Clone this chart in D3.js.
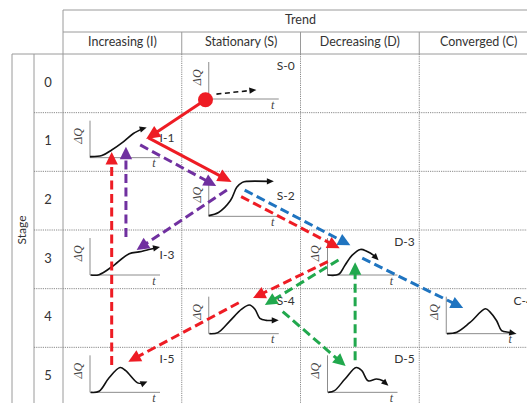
<!DOCTYPE html>
<html>
<head>
<meta charset="utf-8">
<script src="https://cdn.jsdelivr.net/npm/d3@7"></script>
<style>
  body { margin: 0; background: #fff; }
  text { font-family: Lato, "Open Sans", sans-serif; fill: #333; }
  .math { font-family: "Liberation Serif", "DejaVu Serif", serif; font-style: italic; fill: #444; }
</style>
</head>
<body>
<svg id="chart" width="527" height="403"></svg>
<script>
// grid categories
const trendLabels = ["Increasing (I)", "Stationary (S)", "Decreasing (D)", "Converged (C)"];
const trendCodes = ["I", "S", "D", "C"];
const stages = [0, 1, 2, 3, 4, 5];

// states and their dQ(t) sketch, in plot units (t, q) from 0 to 1
const stateNames = ["S-0", "I-1", "S-2", "I-3", "S-4", "I-5", "D-3", "C-4", "D-5"];
const stateCurves = [
  [[0.11, 0.14], [0.68, 0.26]],
  [[0, 0.03], [0.17, 0.06], [0.31, 0.22], [0.48, 0.46], [0.62, 0.69], [0.74, 0.82], [0.81, 0.86]],
  [[0, 0.02], [0.14, 0.11], [0.31, 0.45], [0.4, 0.83], [0.48, 0.97], [0.55, 1.0], [0.93, 1.0]],
  [[0.01, 0], [0.13, 0.01], [0.31, 0.23], [0.56, 0.61], [0.7, 0.66], [0.84, 0.73], [1.0, 0.8]],
  [[0.01, 0], [0.13, 0.03], [0.3, 0.36], [0.47, 0.7], [0.58, 0.82], [0.66, 0.7], [0.73, 0.44], [0.82, 0.38], [1.0, 0.38]],
  [[0.01, 0], [0.13, 0.03], [0.27, 0.41], [0.43, 0.71], [0.51, 0.62], [0.68, 0.27], [0.75, 0.25], [0.82, 0.31]],
  [[0, 0], [0.16, 0.02], [0.25, 0.28], [0.35, 0.56], [0.47, 0.73], [0.56, 0.68], [0.66, 0.56], [0.73, 0.42]],
  [[0.01, 0], [0.15, 0.04], [0.34, 0.32], [0.56, 0.71], [0.63, 0.61], [0.72, 0.37], [0.79, 0.09], [0.89, 0.04], [1.0, 0]],
  [[0.01, 0], [0.1, 0.05], [0.25, 0.38], [0.41, 0.71], [0.49, 0.62], [0.58, 0.33], [0.7, 0.38], [0.79, 0.33], [0.87, 0.19]]
];

// transitions between states
const transFrom = ["S-0", "I-1", "I-1", "S-2", "I-3", "I-5", "S-2", "S-2", "D-3", "D-3", "S-4", "D-3", "S-4", "D-5"];
const transTo = ["I-1", "S-2", "S-2", "I-3", "I-1", "I-1", "D-3", "D-3", "C-4", "S-4", "I-5", "S-4", "D-5", "D-3"];
const transPath = ["red", "red", "purple", "purple", "purple", "red", "red", "blue", "blue", "red", "red", "green", "green", "green"];
const transObserved = [true, true, false, false, false, false, false, false, false, false, false, false, false, false];

// where each transition leaves / enters its cell (fraction of cell width, height)
const transAnchors = [
  [[0.20, 0.78], [0.70, 0.45]],
  [[0.72, 0.43], [0.42, 0.18]],
  [[0.65, 0.55], [0.29, 0.25]],
  [[0.38, 0.32], [0.62, 0.34]],
  [[0.53, 0.12], [0.53, 0.58]],
  [[0.41, 0.30], [0.41, 0.67]],
  [[0.50, 0.43], [0.33, 0.31]],
  [[0.53, 0.32], [0.42, 0.26]],
  [[0.52, 0.48], [0.37, 0.33]],
  [[0.23, 0.54], [0.60, 0.16]],
  [[0.48, 0.24], [0.55, 0.245]],
  [[0.32, 0.51], [0.70, 0.28]],
  [[0.85, 0.39], [0.38, 0.32]],
  [[0.46, 0.22], [0.46, 0.55]]
];

const pathColor = d3.scaleOrdinal()
  .domain(["red", "purple", "blue", "green"])
  .range(["#ee1c24", "#7030a0", "#1f74c0", "#21a84d"]);

const svg = d3.select("#chart");

const x = d3.scaleBand().domain(trendCodes).range([63, 538]);
const y = d3.scaleBand().domain(stages).range([54, 406]);

// ---- table frame ----
const grid = svg.append("g").attr("fill", "none");
const solid = (x1, y1, x2, y2) => grid.append("line")
  .attr("x1", x1).attr("y1", y1).attr("x2", x2).attr("y2", y2)
  .attr("stroke", "#9a9a9a");
const dotted = (x1, y1, x2, y2) => solid(x1, y1, x2, y2)
  .attr("stroke", "#8a8a8a")
  .attr("stroke-dasharray", "1.2,1");

solid(63, 10, 538, 10);
solid(63, 32, 538, 32);
solid(12, 54, 538, 54);
solid(63, 10, 63, 406);
solid(12, 54, 12, 406);
solid(34, 54, 34, 406);
trendCodes.slice(1).forEach((c) => {
  solid(x(c), 32, x(c), 54);
  dotted(x(c), 54, x(c), 406);
});
stages.slice(1).forEach((s) => dotted(34, y(s), 538, y(s)));

svg.append("text")
  .attr("x", (x.range()[0] + x.range()[1]) / 2)
  .attr("y", 21)
  .attr("text-anchor", "middle")
  .attr("dominant-baseline", "middle")
  .attr("font-size", 12.5)
  .text("Trend");

svg.selectAll(".trend-label").data(trendCodes).enter()
  .append("text")
  .classed("trend-label", true)
  .attr("x", (d) => x(d) + x.bandwidth() / 2)
  .attr("y", 43)
  .attr("text-anchor", "middle")
  .attr("dominant-baseline", "middle")
  .attr("font-size", 12.5)
  .text((d, i) => trendLabels[i]);

svg.selectAll(".stage-label").data(stages).enter()
  .append("text")
  .classed("stage-label", true)
  .attr("x", 48)
  .attr("y", (d) => y(d) + y.bandwidth() / 2)
  .attr("text-anchor", "middle")
  .attr("dominant-baseline", "middle")
  .attr("font-size", 13)
  .text((d) => d);

svg.append("text")
  .attr("transform", "translate(23," + (y.range()[0] + y.range()[1]) / 2 + ") rotate(-90)")
  .attr("text-anchor", "middle")
  .attr("dominant-baseline", "middle")
  .attr("font-size", 12)
  .text("Stage");

// ---- mini plots ----
const plotW = 70, plotH = 35, plotDx = 27, plotDy = 45;
const cellOf = (name) => {
  const parts = name.split("-");
  return { col: parts[0], stage: +parts[1] };
};

const tScale = d3.scaleLinear().domain([0, 1]).range([0, plotW]);
const qScale = d3.scaleLinear().domain([0, 1]).range([0, -plotH]);
const curveLine = d3.line()
  .x((p) => tScale(p[0]))
  .y((p) => qScale(p[1]))
  .curve(d3.curveCatmullRom.alpha(0.5));

const head = (tip, from, len, half) => {
  const dx = tip[0] - from[0], dy = tip[1] - from[1];
  const n = Math.hypot(dx, dy), ux = dx / n, uy = dy / n;
  const bx = tip[0] - ux * len, by = tip[1] - uy * len;
  return [[tip[0], tip[1]], [bx - uy * half, by + ux * half], [bx + uy * half, by - ux * half]];
};

stateNames.forEach((name, i) => {
  const c = cellOf(name);
  const ox = x(c.col) + plotDx, oy = y(c.stage) + plotDy;
  const g = svg.append("g").attr("transform", "translate(" + ox + "," + oy + ")");
  const pts = stateCurves[i];

  g.append("line").attr("x1", 0).attr("y1", 0).attr("x2", 0).attr("y2", -plotH - 2)
    .attr("stroke", "#8c8c8c").attr("stroke-width", 1);
  g.append("line").attr("x1", 0).attr("y1", 0).attr("x2", plotW).attr("y2", 0)
    .attr("stroke", "#8c8c8c").attr("stroke-width", 1);

  g.append("text").classed("math", true)
    .attr("transform", "translate(-11," + (-plotH * 0.62) + ") rotate(-90)")
    .attr("text-anchor", "middle")
    .attr("dominant-baseline", "middle")
    .attr("font-size", 12)
    .text("ΔQ");
  g.append("text").classed("math", true)
    .attr("x", plotW - 6).attr("y", 7)
    .attr("text-anchor", "middle")
    .attr("dominant-baseline", "middle")
    .attr("font-size", 12)
    .text("t");

  const last = pts[pts.length - 1];
  const prev = pts[pts.length - 2];
  const tip = [tScale(last[0]), qScale(last[1])];
  const before = [tScale(prev[0]), qScale(prev[1])];
  const tri = head(tip, before, 7, 3.2);
  const trimmed = pts.slice(0, -1).concat([[
    tScale.invert(tip[0] - (tip[0] - tri[1][0] + tip[0] - tri[2][0]) / 2 * 0.8),
    qScale.invert(tip[1] - (tip[1] - tri[1][1] + tip[1] - tri[2][1]) / 2 * 0.8)
  ]]);

  g.append("path")
    .attr("d", curveLine(trimmed))
    .attr("fill", "none")
    .attr("stroke", "#111")
    .attr("stroke-width", 1.6)
    .attr("stroke-dasharray", c.stage === 0 ? "5,3.5" : null);
  g.append("polygon")
    .attr("points", tri.map((p) => p.join(",")).join(" "))
    .attr("fill", "#111");

  const labelLow = last[1] > 0.7;
  svg.append("text")
    .attr("x", x(c.col) + 104)
    .attr("y", y(c.stage) + (labelLow ? 26 : 13))
    .attr("text-anchor", "middle")
    .attr("dominant-baseline", "middle")
    .attr("font-size", 12)
    .text(name);
});

// ---- transitions ----
const anchorPoint = (name, frac) => {
  const c = cellOf(name);
  return [x(c.col) + frac[0] * x.bandwidth(), y(c.stage) + frac[1] * y.bandwidth()];
};

const arrows = svg.append("g");
transFrom.forEach((from, i) => {
  const p0 = anchorPoint(from, transAnchors[i][0]);
  const p1 = anchorPoint(transTo[i], transAnchors[i][1]);
  const col = pathColor(transPath[i]);
  const len = transObserved[i] ? 14 : 12.5;
  const tri = head(p1, p0, len, transObserved[i] ? 6.5 : 6.2);
  const n = Math.hypot(p1[0] - p0[0], p1[1] - p0[1]);
  const bx = (tri[1][0] + tri[2][0]) / 2 + (p1[0] - p0[0]) / n;
  const by = (tri[1][1] + tri[2][1]) / 2 + (p1[1] - p0[1]) / n;

  arrows.append("line")
    .attr("x1", p0[0]).attr("y1", p0[1])
    .attr("x2", bx).attr("y2", by)
    .attr("stroke", col)
    .attr("stroke-width", 3)
    .attr("stroke-dasharray", transObserved[i] ? null : "9,4.5");
  arrows.append("polygon")
    .attr("points", tri.map((p) => p.join(",")).join(" "))
    .attr("fill", col);
});

// starting state marker
const start = anchorPoint(transFrom[0], transAnchors[0][0]);
arrows.append("circle")
  .attr("cx", start[0]).attr("cy", start[1])
  .attr("r", 7.5)
  .attr("fill", pathColor(transPath[0]));
</script>
</body>
</html>
